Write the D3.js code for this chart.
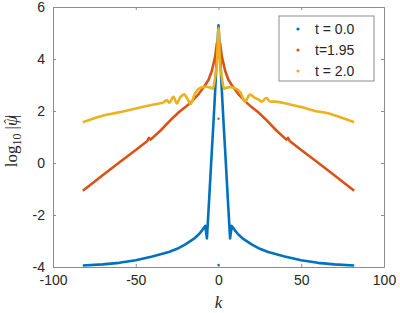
<!DOCTYPE html>
<html>
<head>
<meta charset="utf-8">
<script src="https://cdn.jsdelivr.net/npm/d3@7"></script>
<style>
  body { margin: 0; background: #fff; }
  svg { display: block; }
</style>
</head>
<body>
<svg id="chart" width="400" height="313"></svg>
<script>
// values
var blueK = [-82,-70,-60,-50,-40,-30,-25,-20,-15,-12,-10,-8,-7,-6,-5,-4,-3,-2,-1,0,
             1,2,3,4,5,6,7,8,10,12,15,20,25,30,40,50,60,70,82];
var blueV = [-3.94,-3.9,-3.84,-3.74,-3.6,-3.42,-3.3,-3.13,-2.92,-2.75,-2.6,-2.42,-2.9,-1.8,-0.65,0.5,1.6,2.8,4.1,5.3,
             4.1,2.8,1.6,0.5,-0.65,-1.8,-2.9,-2.42,-2.6,-2.75,-2.92,-3.13,-3.3,-3.42,-3.6,-3.74,-3.84,-3.9,-3.94];

var redK = [-82,-75,-70,-60,-50,-43,-42,-41,-35,-29,-24,-20,-16,-12,-8,-6,-4,-3,-2,-1,
            1,2,3,4,6,8,12,16,20,24,29,35,41,42,43,50,60,70,75,82];
var redV = [-1.07,-0.72,-0.47,0.02,0.5,0.85,0.97,0.9,1.25,1.65,1.95,2.15,2.38,2.65,3.0,3.2,3.55,3.83,4.1,4.6,
            4.6,4.1,3.83,3.55,3.2,3.0,2.65,2.38,2.15,1.95,1.65,1.25,0.9,0.97,0.85,0.5,0.02,-0.47,-0.72,-1.07];

var yellowK = [-82,-75,-70,-60,-50,-40,-35,-33.2,-31.2,-29.6,-27.2,-25.2,-23.2,-20.8,-18.8,-16.8,-14.2,-11.6,-8,-5,-3.5,-2.5,-1.5,-1,0,
               1,1.5,2.5,3.5,5,9.9,13,16,19,22,24,26,29,31,34,40,50,60,64,70,75,82];
var yellowV = [1.57,1.72,1.82,1.95,2.1,2.24,2.3,2.33,2.42,2.32,2.55,2.29,2.52,2.64,2.47,2.27,2.68,2.87,2.93,2.9,2.86,3.1,3.55,3.8,5.2,
               3.8,3.55,3.1,2.86,2.9,2.88,2.74,2.36,2.63,2.5,2.45,2.36,2.5,2.37,2.36,2.3,2.15,1.98,1.94,1.84,1.73,1.57];

// k = 0 points that sit off the curves
var zeroV = [-3.92, 1.7];

var seriesNames = ['t = 0.0', 't=1.95', 't = 2.0'];
var colors = ['#0072BD', '#D95319', '#EDB120'];
var xTicks = [-100, -50, 0, 50, 100];
var yTicks = [-4, -2, 0, 2, 4, 6];

var margin = {top: 7, right: 16, bottom: 46, left: 53},
    width = 400 - margin.left - margin.right,
    height = 313 - margin.top - margin.bottom;

var svg = d3.select('#chart')
  .append('g')
    .attr('transform', 'translate(' + margin.left + ',' + margin.top + ')');

var x = d3.scaleLinear().domain([-100, 100]).range([0, width]);
var y = d3.scaleLinear().domain([-4, 6]).range([height, 0]);

// plain hyphen minus like matlab
var fmt = function(d) { return String(d); };

function styleAxis(g, labels) {
  g.select('.domain').attr('stroke', '#8c8c8c');
  g.selectAll('.tick line').attr('stroke', '#8c8c8c');
  g.selectAll('text')
    .style('font-family', 'Liberation Sans, Arial, sans-serif')
    .style('font-size', '14px')
    .attr('fill', '#262626');
  if (!labels) g.selectAll('text').remove();
}

svg.append('g')
  .attr('transform', 'translate(0,' + height + ')')
  .call(d3.axisBottom(x).tickValues(xTicks).tickFormat(fmt).tickSize(-3).tickPadding(8).tickSizeOuter(0))
  .call(styleAxis, true);
svg.append('g')
  .call(d3.axisTop(x).tickValues(xTicks).tickSize(-3).tickSizeOuter(0))
  .call(styleAxis, false);
svg.append('g')
  .call(d3.axisLeft(y).tickValues(yTicks).tickFormat(fmt).tickSize(-3).tickPadding(8).tickSizeOuter(0))
  .call(styleAxis, true);
svg.append('g')
  .attr('transform', 'translate(' + width + ',0)')
  .call(d3.axisRight(y).tickValues(yTicks).tickSize(-3).tickSizeOuter(0))
  .call(styleAxis, false);

// curves
var line = d3.line()
  .x(function(d) { return x(d[0]); })
  .y(function(d) { return y(d[1]); });
var smooth = d3.line()
  .curve(d3.curveCatmullRom.alpha(0.5))
  .x(function(d) { return x(d[0]); })
  .y(function(d) { return y(d[1]); });

var series = [[blueK, blueV], [redK, redV], [yellowK, yellowV]];
series.forEach(function(s, i) {
  var pts = s[0].map(function(k, j) { return [k, s[1][j]]; });
  svg.append('path')
    .datum(pts)
    .attr('d', i == 2 ? smooth : line)
    .attr('fill', 'none')
    .attr('stroke', colors[i])
    .attr('stroke-width', 2.6)
    .attr('stroke-linejoin', 'round');
});

svg.selectAll('.zero')
  .data(zeroV)
  .enter()
  .append('circle')
    .attr('cx', x(0))
    .attr('cy', function(d) { return y(d); })
    .attr('r', 1.2)
    .attr('fill', function(d, i) { return colors[i]; });

// legend
var legend = svg.append('g').attr('transform', 'translate(226,9)');
legend.append('rect')
  .attr('width', 95).attr('height', 65)
  .attr('fill', '#fff')
  .attr('stroke', '#8c8c8c');
seriesNames.forEach(function(name, i) {
  legend.append('circle')
    .attr('cx', 19).attr('cy', 13 + i * 21)
    .attr('r', 1.6)
    .attr('fill', colors[i]);
  legend.append('text')
    .attr('x', 36).attr('y', 13 + i * 21)
    .attr('dy', '0.35em')
    .text(name)
    .style('font-family', 'Liberation Sans, Arial, sans-serif')
    .style('font-size', '14px')
    .attr('fill', '#262626');
});

// axis labels
svg.append('text')
  .attr('x', width / 2)
  .attr('y', height + 41)
  .attr('text-anchor', 'middle')
  .style('font-family', 'Liberation Serif, serif')
  .style('font-style', 'italic')
  .style('font-size', '17px')
  .attr('fill', '#262626')
  .text('k');

var ylab = svg.append('text')
  .attr('transform', 'translate(-36,' + (height / 2 + 4) + ') rotate(-90)')
  .attr('text-anchor', 'middle')
  .style('font-family', 'Liberation Serif, serif')
  .style('font-size', '17px')
  .attr('fill', '#262626');
ylab.append('tspan').text('log');
ylab.append('tspan').attr('dy', 4).style('font-size', '12px').text('10');
ylab.append('tspan').attr('dy', -4).text(' |');
ylab.append('tspan').style('font-style', 'italic').text('\u03C8');
ylab.append('tspan').attr('dx', -8).attr('dy', -4).style('font-size', '13px').text('\u02C6');
ylab.append('tspan').attr('dx', 1).attr('dy', 4).text('|');
</script>
</body>
</html>
